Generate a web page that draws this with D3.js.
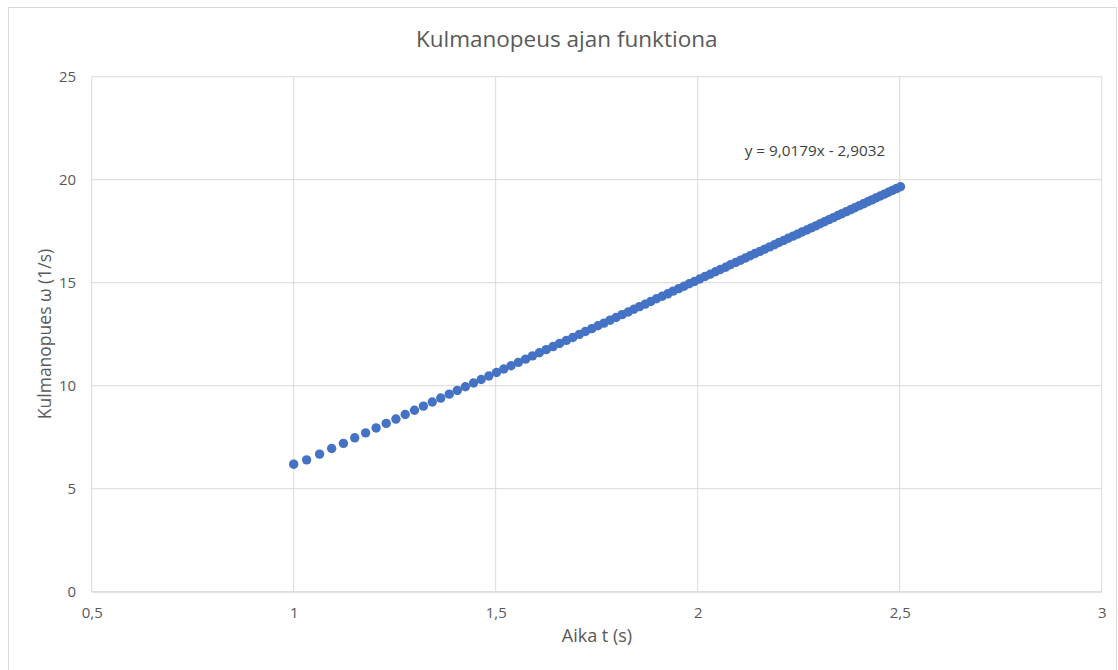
<!DOCTYPE html>
<html><head><meta charset="utf-8">
<script src="https://cdn.jsdelivr.net/npm/d3@7"></script>
<style>html,body{margin:0;padding:0;background:#fff;} svg{display:block;}</style>
</head><body>
<script>
const title = "Kulmanopeus ajan funktiona";
const xTitle = "Aika t (s)";
const yTitle = "Kulmanopues ω (1/s)";
const trendLabel = "y = 9,0179x - 2,9032";
const xTicks = [0.5, 1, 1.5, 2, 2.5, 3];
const yTicks = [0, 5, 10, 15, 20, 25];
const tValues = [1.000,1.032,1.064,1.094,1.123,1.151,1.178,1.204,1.229,1.253,1.276,1.299,1.321,1.343,1.364,1.385,1.405,1.425,1.445,1.464,1.483,
1.502,1.520,1.538,1.556,1.574,1.591,1.608,1.625,1.642,1.658,1.675,1.691,1.707,1.722,1.738,1.753,1.768,1.783,1.798,1.813,1.828,1.842,1.856,1.870,1.884,1.898,1.912,1.926,1.939,1.953,1.966,1.979,1.992,2.005,2.018,2.031,2.044,2.056,2.069,2.081,2.094,2.106,2.118,2.130,2.142,2.154,2.166,2.178,2.190,2.201,2.213,2.224,2.236,2.247,2.258,2.270,2.281,2.292,2.303,2.314,2.325,2.336,2.347,2.357,2.368,2.379,2.389,2.400,2.410,2.421,2.431,2.441,2.452,2.462,2.472,2.482,2.492,2.502];
const omegaValues = [6.19,6.40,6.68,6.95,7.20,7.47,7.71,7.95,8.17,8.38,8.60,8.81,9.01,9.21,9.40,9.59,9.77,9.95,10.13,10.30,10.47,
10.64,10.81,10.97,11.13,11.29,11.45,11.60,11.75,11.90,12.05,12.20,12.34,12.49,12.63,12.77,12.91,13.04,13.18,13.31,13.45,13.58,13.71,13.84,13.96,14.09,14.22,14.34,14.46,14.59,14.71,14.83,14.95,15.06,15.18,15.30,15.41,15.53,15.64,15.75,15.87,15.98,16.09,16.20,16.31,16.42,16.52,16.63,16.74,16.84,16.95,17.05,17.16,17.26,17.36,17.46,17.56,17.66,17.76,17.86,17.96,18.06,18.16,18.26,18.35,18.45,18.55,18.64,18.74,18.83,18.93,19.02,19.11,19.21,19.30,19.39,19.48,19.57,19.66];

const W = 1118, H = 670;
const margin = {left: 91.7, top: 76.7, right: 1118 - 1101.7, bottom: 670 - 591.7};
const svg = d3.select("body").append("svg").attr("width", W).attr("height", H);
svg.append("rect").attr("x", 8.5).attr("y", 7.5).attr("width", 1108).attr("height", 700)
  .attr("fill", "#fff").attr("stroke", "#d9d9d9").attr("stroke-width", 1);

const x = d3.scaleLinear().domain([0.5, 3]).range([margin.left, W - margin.right]);
const y = d3.scaleLinear().domain([0, 25]).range([H - margin.bottom, margin.top]);
const font = "'Open Sans', sans-serif";

// gridlines
svg.append("g").selectAll("line.v").data(xTicks).join("line")
  .attr("x1", d => x(d)).attr("x2", d => x(d)).attr("y1", y(25)).attr("y2", y(0))
  .attr("stroke", "#d9d9d9").attr("stroke-width", 1);
svg.append("g").selectAll("line.h").data(yTicks).join("line")
  .attr("x1", x(0.5)).attr("x2", x(3)).attr("y1", d => y(d)).attr("y2", d => y(d))
  .attr("stroke", "#d9d9d9").attr("stroke-width", 1);

// axes via d3
const fmt = d => String(d).replace(".", ",");
const xAxis = svg.append("g").attr("transform", `translate(0,${y(0)})`)
  .call(d3.axisBottom(x).tickValues(xTicks).tickFormat(fmt).tickSize(0).tickPadding(15.5));
xAxis.select(".domain").attr("stroke", "#d9d9d9");
xAxis.selectAll("text").attr("fill", "#595959").style("font-size", "15px").style("font-family", font);
const yAxis = svg.append("g").attr("transform", `translate(${x(0.5)},0)`)
  .call(d3.axisLeft(y).tickValues(yTicks).tickFormat(fmt).tickSize(0).tickPadding(15.5));
yAxis.select(".domain").remove();
yAxis.selectAll("text").attr("fill", "#595959").style("font-size", "15px").style("font-family", font);

// points
const data = tValues.map((t, i) => ({t, w: omegaValues[i]}));
svg.append("g").selectAll("circle").data(data).join("circle")
  .attr("cx", d => x(d.t)).attr("cy", d => y(d.w)).attr("r", 4.7)
  .attr("fill", "#4472C4");

// texts
svg.append("text").attr("x", 566.7).attr("y", 47).attr("text-anchor", "middle")
  .attr("fill", "#595959").style("font-size", "22.5px").style("font-family", font).text(title);
svg.append("text").attr("x", 597).attr("y", 642).attr("text-anchor", "middle")
  .attr("fill", "#595959").style("font-size", "18px").style("font-family", font).text(xTitle);
svg.append("text").attr("transform", `translate(51,334) rotate(-90)`).attr("text-anchor", "middle")
  .attr("fill", "#595959").style("font-size", "17.5px").style("font-family", font).text(yTitle);
svg.append("text").attr("x", 815).attr("y", 156).attr("text-anchor", "middle")
  .attr("fill", "#404040").style("font-size", "15.3px").style("font-family", font).text(trendLabel);
</script>
</body></html>
